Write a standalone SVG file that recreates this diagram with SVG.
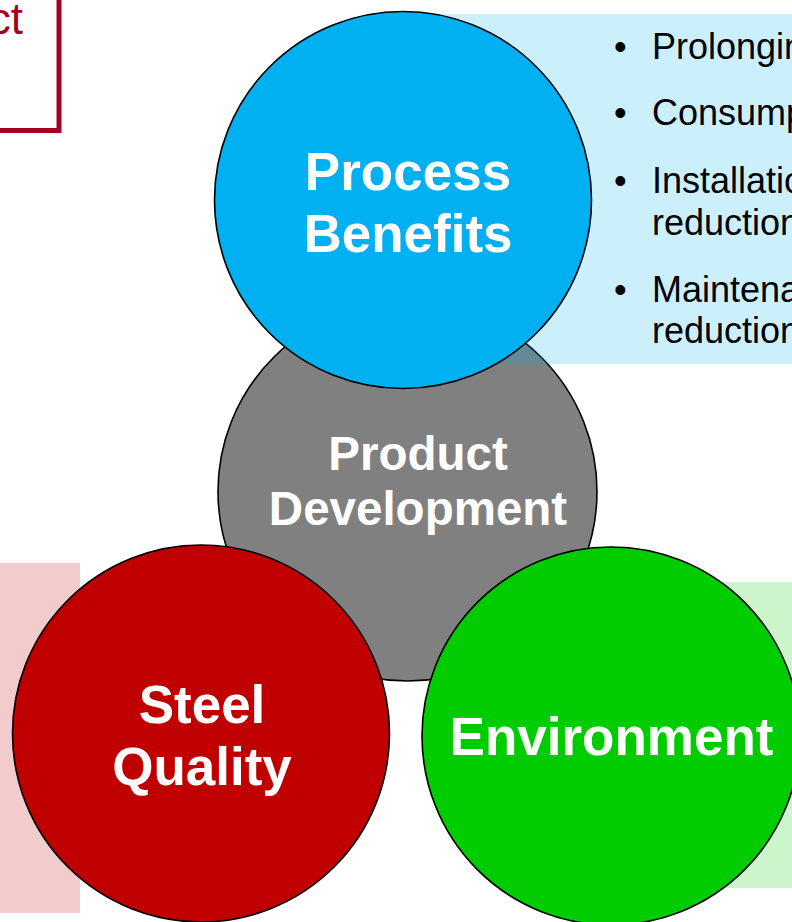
<svg xmlns="http://www.w3.org/2000/svg" width="792" height="922" viewBox="0 0 792 922">
  <style>
    .ring { stroke: #000000; stroke-width: 1.6; }
    .label { font-family: "Liberation Sans", Arial, sans-serif; font-weight: bold; fill: #ffffff; text-anchor: middle; }
    .bullets { font-family: "Liberation Sans", Arial, sans-serif; font-size: 36px; fill: #000000; }
    .panel { stroke: none; }
  </style>

  <rect width="792" height="922" fill="#ffffff"/>

  <!-- framed title box, mostly off-canvas -->
  <g id="title-box">
    <rect x="-100" y="-100" width="159" height="230.5" fill="none" stroke="#A50021" stroke-width="5"/>
    <text x="23" y="34" font-family="Liberation Sans, Arial, sans-serif" font-size="44" fill="#A50021" text-anchor="end">ct</text>
  </g>

  <!-- central hub circle -->
  <g id="product-development">
    <circle class="ring" cx="407.5" cy="491.5" r="189.5" fill="#808080"/>
    <text class="label" x="418" y="470" font-size="47.5">Product</text>
    <text class="label" x="418" y="525" font-size="47.5">Development</text>
  </g>

  <!-- tinted side panels -->
  <g id="panels">
    <rect class="panel" x="420" y="14" width="400" height="350" fill="#00B0F0" fill-opacity="0.2"/>
    <rect class="panel" x="0" y="563" width="80" height="350" fill="#C00000" fill-opacity="0.2"/>
    <rect class="panel" x="723" y="582" width="100" height="306" fill="#00CC00" fill-opacity="0.2"/>
  </g>

  <g id="benefit-list" class="bullets">
    <text x="614" y="59">•</text><text x="652" y="59">Prolonging</text>
    <text x="614" y="125">•</text><text x="652" y="125">Consumption</text>
    <text x="614" y="193">•</text><text x="652" y="193">Installation</text>
    <text x="652" y="235">reduction</text>
    <text x="614" y="302">•</text><text x="652" y="302">Maintenance</text>
    <text x="652" y="343">reduction</text>
  </g>

  <g id="process-benefits">
    <circle class="ring" cx="403" cy="200" r="188.5" fill="#00B0F0"/>
    <text class="label" x="408" y="190" font-size="53">Process</text>
    <text class="label" x="408" y="252" font-size="53">Benefits</text>
  </g>

  <g id="steel-quality">
    <circle class="ring" cx="201" cy="733.5" r="188.5" fill="#C00000"/>
    <text class="label" x="202" y="723" font-size="53">Steel</text>
    <text class="label" x="202" y="785" font-size="53">Quality</text>
  </g>

  <g id="environment">
    <circle class="ring" cx="611" cy="736" r="189" fill="#00CC00"/>
    <text class="label" x="611.5" y="755" font-size="53">Environment</text>
  </g>

  <g id="connectors"/>
</svg>
